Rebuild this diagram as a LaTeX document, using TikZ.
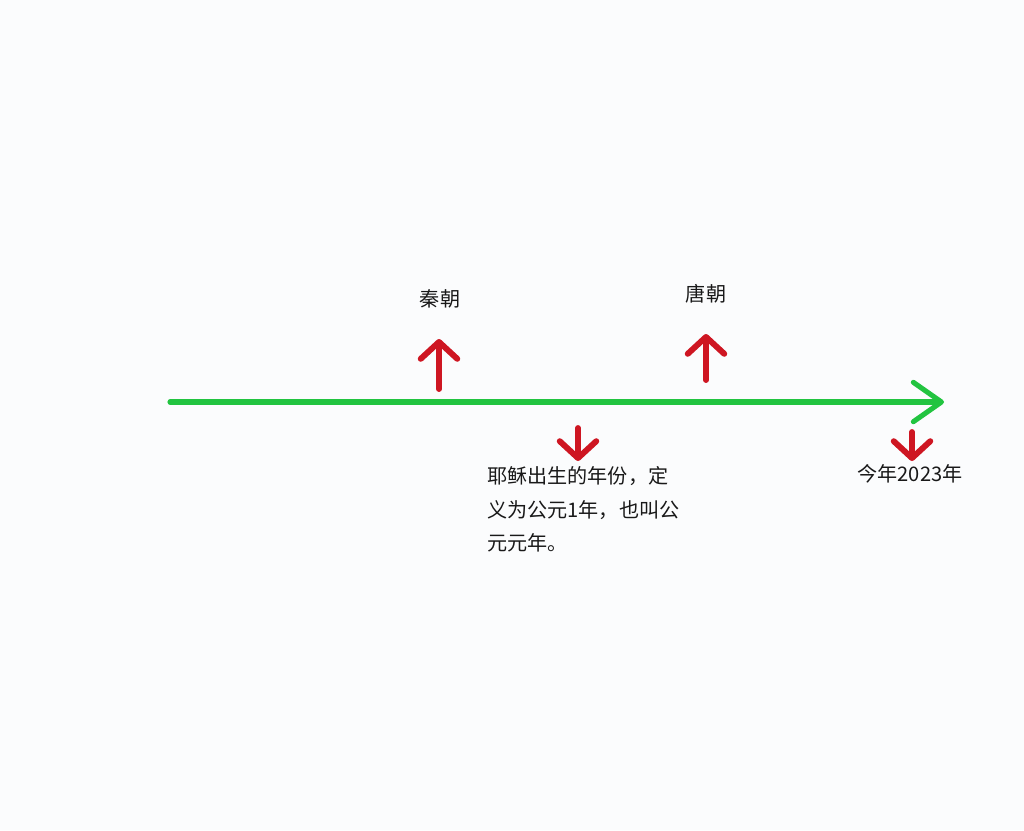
\documentclass[tikz,border=0pt]{standalone}
\usepackage{fontspec}
\newfontfamily\cjk{Noto Sans CJK SC}
\usetikzlibrary{arrows.meta}
\definecolor{axisgreen}{RGB}{34,196,64}
\definecolor{markred}{RGB}{206,22,34}
\definecolor{paper}{RGB}{251,252,253}

\begin{document}
\begin{tikzpicture}[
                    % GLOBAL CFG
                    x=0.025cm, y=-0.025cm,
                    font=\cjk\fontsize{14.3pt}{24pt}\selectfont,
                    % Styles
                    timeline/.style={% For the green axis
                            draw=axisgreen,
                            line width=3.6pt,
                            line cap=round,
                            -{Straight Barb[length=20pt, width=28pt, line cap=round, line join=round]},
                        },
                    marker/.style={% For the red hand drawn arrows
                            draw=markred,
                            line width=4.2pt,
                            line cap=round,
                            -{Straight Barb[length=12pt, width=26pt, line cap=round, line join=round]},
                        },
                    era/.style={% For the labels
                            inner sep=0pt,
                            text=black!90,
                        },
                ]

                \fill [paper] (0,0) rectangle (1024,830);
                \useasboundingbox (0,0) rectangle (1024,830);

                % Draw the labels
                \node [era] (qin) at (440,299) {秦朝};
                \node [era] (tang) at (706,294) {唐朝};
                \node [era, anchor=north west, align=left] (ad1) at (487,466)
                    {耶稣出生的年份，定\\义为公元1年，也叫公\\元元年。};
                \node [era] (now) at (910,474) {今年2023年};

                % Draw the points of the axis
                \coordinate (start) at (170,402);
                \coordinate (end) at (944,402);
                \coordinate (qin0) at (439,389);
                \coordinate (qin1) at (439,339);
                \coordinate (tang0) at (706,380);
                \coordinate (tang1) at (706,334);
                \coordinate (ad0) at (578,428);
                \coordinate (ad1tip) at (578,461);
                \coordinate (now0) at (912,432);
                \coordinate (now1) at (912,461);

                % Axis
                \draw [timeline] (start) -- (end);

                % Markers
                \draw [marker] (qin0) -- (qin1);
                \draw [marker] (tang0) -- (tang1);
                \draw [marker] (ad0) -- (ad1tip);
                \draw [marker] (now0) -- (now1);

            \end{tikzpicture}
\end{document}
